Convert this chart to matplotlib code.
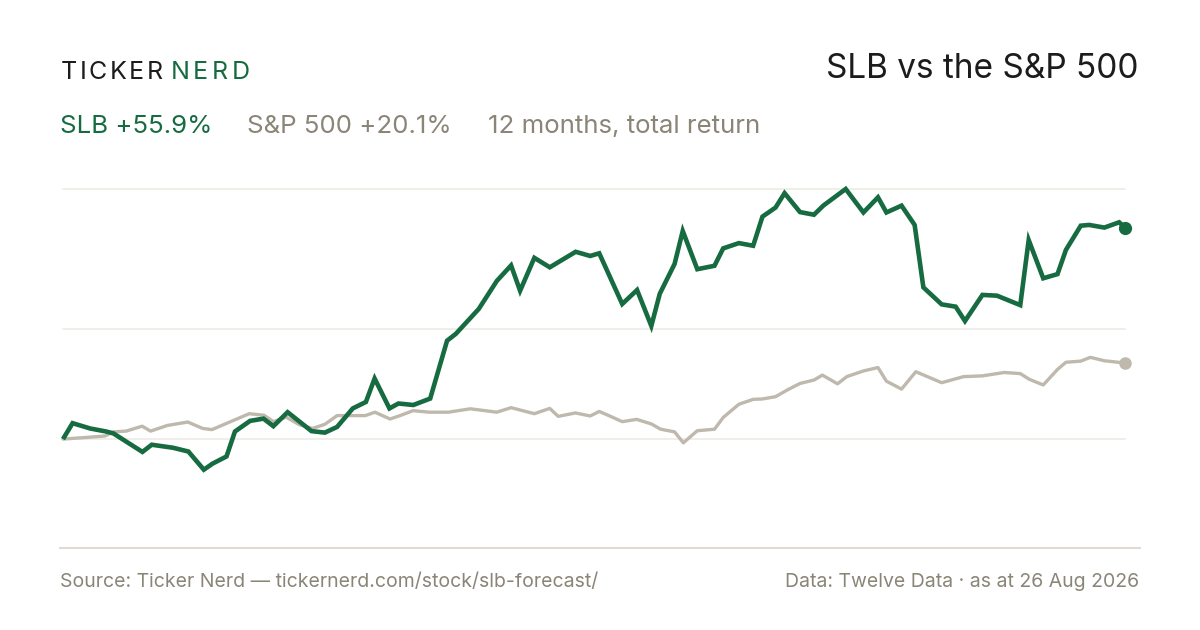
import matplotlib
matplotlib.use("Agg")
import matplotlib.pyplot as plt
from matplotlib.lines import Line2D

plt.rcParams["font.family"] = ["Inter", "DejaVu Sans"]

# ── Farben ──
GREEN = "#176b40"
SPX_GREY = "#bfb8ac"
TEXT_GREY = "#8a8577"
DARK = "#1c1c1c"
GRID = "#ece9e3"
AXIS = "#dcd8ce"

# ── Daten: Tage seit Start, Gesamtrendite in % ──
slb_day = [0, 3.3, 9.3, 14.8, 17.3, 27.3, 30.5, 37.8, 43.1, 48.4, 51.4, 56.2,
           59.1, 64.3, 68.9, 72.3, 77.2, 85.4, 90.0, 94.2, 99.6, 104.1, 107.1,
           112.2, 115.3, 120.4, 126.2, 132.0, 135.0, 142.9, 149.1, 154.0, 157.1,
           162.0, 167.3, 176.2, 181.2, 184.3, 192.2, 197.3, 202.2, 205.1, 210.2,
           213.0, 218.0, 223.9, 226.9, 232.3, 237.2, 240.4, 244.9, 248.0, 253.3,
           258.1, 261.3, 269.0, 275.1, 280.1, 283.0, 288.2, 292.7, 295.7, 302.0,
           306.8, 310.0, 316.0, 321.0, 329.0, 331.9, 336.9, 341.8, 344.7, 349.8,
           352.7, 357.9, 363.0, 365.0]
slb_ret = [0.0, 4.2, 2.8, 2.0, 1.5, -3.4, -1.5, -2.3, -3.3, -8.1, -6.5, -4.6,
           2.0, 4.8, 5.4, 3.4, 7.1, 2.1, 1.7, 3.2, 8.1, 9.8, 16.0,
           8.1, 9.4, 9.0, 10.7, 26.0, 27.8, 34.4, 41.8, 45.9, 39.2,
           47.9, 45.4, 49.5, 48.4, 49.1, 35.7, 39.4, 29.9, 38.4, 46.3,
           55.0, 44.9, 45.8, 50.4, 51.8, 51.1, 58.8, 61.2, 65.0, 60.0,
           59.3, 61.7, 66.1, 59.9, 63.9, 59.9, 61.7, 56.6, 40.1, 35.6,
           35.0, 31.2, 38.1, 37.9, 35.4, 52.6, 42.5, 43.6, 50.0, 56.4,
           56.6, 55.9, 57.3, 55.9]

spx_day = [0, 7.6, 14.4, 17.3, 21.7, 27.2, 30.1, 35.9, 42.9, 48.0, 51.2, 64.0,
           69.1, 72.3, 76.7, 81.2, 85.8, 90.0, 94.2, 103.9, 107.2, 112.4, 115.5,
           120.3, 125.9, 132.5, 140.0, 149.1, 154.0, 162.0, 167.3, 170.2, 176.1,
           181.2, 184.3, 187.9, 192.2, 197.2, 202.2, 205.4, 210.2, 213.2, 218.0,
           223.9, 226.9, 232.3, 237.2, 240.4, 244.9, 249.0, 253.3, 258.1, 261.0,
           266.2, 269.4, 275.1, 280.1, 283.0, 288.2, 293.1, 302.0, 309.5, 316.0,
           323.5, 329.0, 332.1, 336.9, 341.8, 344.7, 349.8, 353.1, 357.9, 365.0]
spx_ret = [0.0, 0.4, 0.8, 1.9, 2.1, 3.4, 2.1, 3.6, 4.5, 2.8, 2.5, 6.7,
           6.3, 4.6, 5.8, 3.8, 2.8, 3.9, 6.2, 6.2, 7.1, 5.3, 6.1,
           7.5, 7.1, 7.1, 8.0, 7.1, 8.3, 6.7, 8.1, 6.0, 6.9,
           6.1, 7.3, 6.1, 4.6, 5.2, 4.0, 2.6, 1.9, -1.0, 2.2,
           2.6, 5.7, 9.2, 10.5, 10.6, 11.2, 13.0, 14.7, 15.6, 16.9,
           14.6, 16.5, 18.0, 18.9, 15.3, 13.2, 17.8, 14.9, 16.5, 16.7,
           17.6, 17.3, 15.8, 14.3, 18.4, 20.3, 20.6, 21.6, 20.7, 20.1]

grid_levels = [0.0, 29.1, 66.1]
y_range = (-28.8, 66.1)
x_range = (0, 365)

slb_label = "SLB +55.9%"
spx_label = "S&P 500 +20.1%"
period_label = "12 months, total return"
title = "SLB vs the S&P 500"
source_note = "Source: Ticker Nerd \u2014 tickernerd.com/stock/slb-forecast/"
data_note = "Data: Twelve Data \u00b7 as at 26 Aug 2026"

W, H = 1200, 630
fig = plt.figure(figsize=(W / 100, H / 100), dpi=100)
fig.patch.set_facecolor("white")


def fx(px):
    return px / W


def fy(py):
    return 1 - py / H


# ── Plotbereich ──
ax = fig.add_axes([fx(63), fy(548), fx(1125) - fx(63), fy(189) - fy(548)])
ax.set_xlim(*x_range)
ax.set_ylim(*y_range)
ax.axis("off")

for g in grid_levels:
    ax.axhline(g, color=GRID, linewidth=1.1, zorder=0, clip_on=False)

ax.plot(spx_day, spx_ret, color=SPX_GREY, linewidth=2.4,
        solid_joinstyle="round", solid_capstyle="round", clip_on=False, zorder=2)
ax.plot(slb_day, slb_ret, color=GREEN, linewidth=3.3,
        solid_joinstyle="miter", solid_capstyle="butt", clip_on=False, zorder=3)
ax.plot(spx_day[-1], spx_ret[-1], "o", color=SPX_GREY, markersize=8,
        clip_on=False, zorder=4)
ax.plot(slb_day[-1], slb_ret[-1], "o", color=GREEN, markersize=8.5,
        clip_on=False, zorder=5)

# Grundlinie über die volle Breite
fig.add_artist(Line2D([fx(60), fx(1140)], [fy(548), fy(548)],
                      color=AXIS, linewidth=1.3))

renderer = fig.canvas.get_renderer()


def text_width(t):
    return t.get_window_extent(renderer=renderer).width


def tracked(x0, x1, y, s, color, size):
    # Buchstaben einzeln setzen, Sperrung so, dass s von x0 bis x1 reicht
    chars = [fig.text(fx(x0), fy(y), ch, color=color, fontsize=size,
                      va="baseline", ha="left") for ch in s]
    widths = [text_width(t) for t in chars]
    gap = (x1 - x0 - sum(widths)) / (len(s) - 1)
    x = x0
    for t, w in zip(chars, widths):
        t.set_x(fx(x))
        x += w + gap


# ── Kopfzeile ──
tracked(60.5, 163, 79, "TICKER", DARK, 18)
tracked(170.5, 249.5, 79, "NERD", GREEN, 18)

fig.text(fx(1139), fy(78), title, color=DARK, fontsize=24,
         ha="right", va="baseline")

for s, c, x in [(slb_label, GREEN, 60), (spx_label, TEXT_GREY, 247),
                (period_label, TEXT_GREY, 488)]:
    fig.text(fx(x), fy(133), s, color=c, fontsize=18.6,
             ha="left", va="baseline")

# ── Fußzeile ──
fig.text(fx(60), fy(587), source_note, color=TEXT_GREY, fontsize=14,
         ha="left", va="baseline")
fig.text(fx(1139), fy(587), data_note, color=TEXT_GREY, fontsize=14,
         ha="right", va="baseline")

fig.savefig("out.png", dpi=100, facecolor="white")
